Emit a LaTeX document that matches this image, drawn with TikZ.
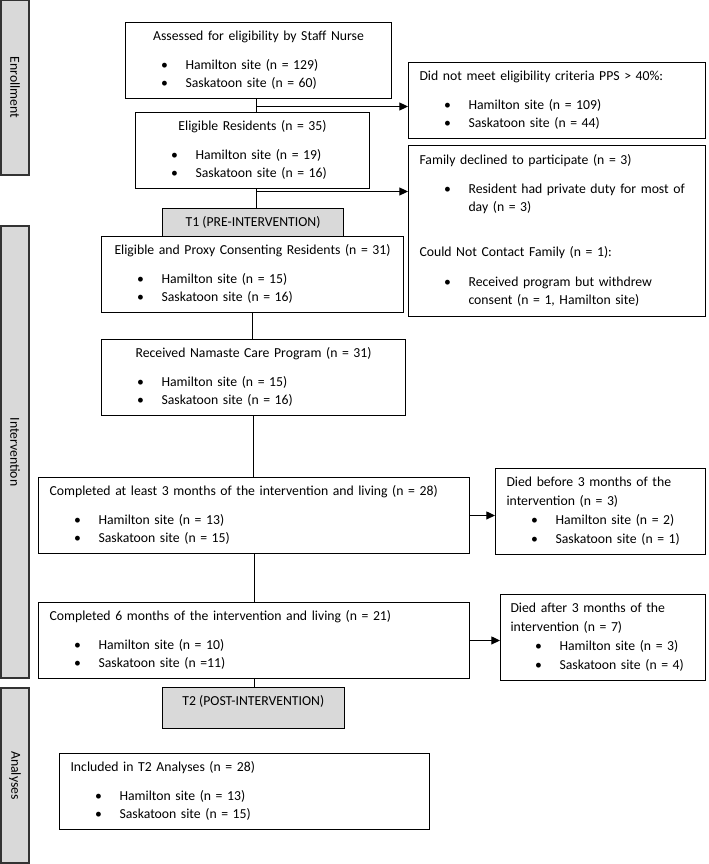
\documentclass[tikz,border=0pt]{standalone}
\usepackage{fontspec}
\setmainfont{Carlito}
\usepackage{tikz}
\usetikzlibrary{arrows.meta,positioning}
\newdimen\pxu \pxu=0.75pt
\definecolor{boxgrey}{HTML}{D9D9D9}
\newcommand{\site}[1]{\makebox[49\pxu][l]{\hspace*{24.5\pxu}\textbullet}\strut#1}
\newcommand{\ttl}[1]{\makebox[\hsize]{\strut#1}}
\tikzset{
    flowbox/.style={
    rectangle,draw=black,fill=white,align=left,anchor=north west,
    inner xsep=11\pxu,inner ysep=4.2pt
    },
    timebox/.style={
    rectangle,draw=black,fill=boxgrey,anchor=north west,inner sep=0pt,
    text height=13.65pt
    },
    phasebox/.style={
    rectangle,draw=black!80,fill=boxgrey,line width=0.9pt,rotate=-90,inner sep=0pt
    },
}

\begin{document}
\begin{tikzpicture}[x=0.75pt, y=-0.75pt, line width=0.8pt,
    font=\fontsize{10.3pt}{13.2pt}\selectfont, >={Triangle[length=6.5pt,width=6pt]}]
   \useasboundingbox (0,0) rectangle (709,864);
   % phases
   \node[phasebox, minimum width=175\pxu, minimum height=28\pxu] (enrol) at (15,87.5) {Enrollment};
   \node[phasebox, minimum width=452\pxu, minimum height=28\pxu] (interv) at (15,452) {Intervention};
   \node[phasebox, minimum width=175\pxu, minimum height=28\pxu] (analy) at (15,775.5) {Analyses};
   % main column
   \node[flowbox, text width=244\pxu] (assess) at (125,22) {\ttl{Assessed for eligibility by Staff Nurse}\\[8.9pt]
      \site{Hamilton site (n = 129)}\\ \site{Saskatoon site (n = 60)}};
   \node[flowbox, text width=212\pxu] (elig) at (135,112) {\ttl{Eligible Residents (n = 35)}\\[8.9pt]
      \site{Hamilton site (n = 19)}\\ \site{Saskatoon site (n = 16)}};
   \node[timebox, minimum width=181\pxu, text depth=7.35pt] (t1) at (162,208) {T1 (PRE-INTERVENTION)};
   \node[flowbox, text width=280\pxu] (consent) at (101,236) {\ttl{Eligible and Proxy Consenting Residents (n = 31)}\\[8.9pt]
      \site{Hamilton site (n = 15)}\\ \site{Saskatoon site (n = 16)}};
   \node[flowbox, text width=282\pxu] (namaste) at (101,339) {\ttl{Received Namaste Care Program (n = 31)}\\[8.9pt]
      \site{Hamilton site (n = 15)}\\ \site{Saskatoon site (n = 16)}};
   \node[flowbox, text width=409\pxu] (three) at (38,477) {\strut Completed at least 3 months of the intervention and living (n = 28)\\[8.9pt]
      \site{Hamilton site (n = 13)}\\ \site{Saskatoon site (n = 15)}};
   \node[flowbox, text width=409\pxu] (six) at (38,602) {\strut Completed 6 months of the intervention and living (n = 21)\\[8.9pt]
      \site{Hamilton site (n = 10)}\\ \site{Saskatoon site (n =11)}};
   \node[timebox, minimum width=182.5\pxu, text depth=17.1pt] (t2) at (161.5,687) {T2 (POST-INTERVENTION)};
   \node[flowbox, text width=348\pxu] (incl) at (59,753) {\strut Included in T2 Analyses (n = 28)\\[8.9pt]
      \site{Hamilton site (n = 13)}\\ \site{Saskatoon site (n = 15)}};
   % exclusions
   \node[flowbox, text width=275\pxu] (noteligible) at (408,62) {\strut Did not meet eligibility criteria PPS > 40\%:\\[8.9pt]
      \site{Hamilton site (n = 109)}\\ \site{Saskatoon site (n = 44)}};
   \node[flowbox, text width=275\pxu, inner ysep=5pt] (declined) at (408,145) {\strut Family declined to participate (n = 3)\\[8.9pt]
      \site{Resident had private duty for most of}\\
      \hspace*{49\pxu}\strut day (n = 3)\\[20.5pt]
      \strut Could Not Contact Family (n = 1):\\[9.3pt]
      \site{Received program but withdrew}\\
      \hspace*{49\pxu}\strut consent (n = 1, Hamilton site)};
   \node[flowbox, text width=188\pxu] (diedbefore) at (495,468) {\strut Died before 3 months of the\\[1pt]
      \strut intervention (n = 3)\\[1pt]
      \site{Hamilton site (n = 2)}\\[1pt] \site{Saskatoon site (n = 1)}};
   \node[flowbox, text width=185\pxu, inner xsep=10\pxu] (diedafter) at (500,594) {\strut Died after 3 months of the\\[1pt]
      \strut intervention (n = 7)\\[1pt]
      \site{Hamilton site (n = 3)}\\[1pt] \site{Saskatoon site (n = 4)}};
   % junctions
   \coordinate (j1) at (256.5,106.5);
   \coordinate (j2) at (256.5,191.5);

   \draw (assess.south -| j1) -- (elig.north -| j1);
   \draw (elig.south -| j2) -- (t1.north -| j2);
   \draw[->] (j1) -- (j1 -| noteligible.west);
   \draw[->] (j2) -- (j2 -| declined.west);
   \draw (consent.south) -- (consent.south |- namaste.north);
   \draw (namaste.south) -- (namaste.south |- three.north);
   \draw[->] (three.east) -- (three.east -| diedbefore.west);
   \draw (three.south) -- (three.south |- six.north);
   \draw[->] (six.east) -- (six.east -| diedafter.west);
   \draw (six.south) -- (six.south |- t2.north);
  \end{tikzpicture}
\end{document}
